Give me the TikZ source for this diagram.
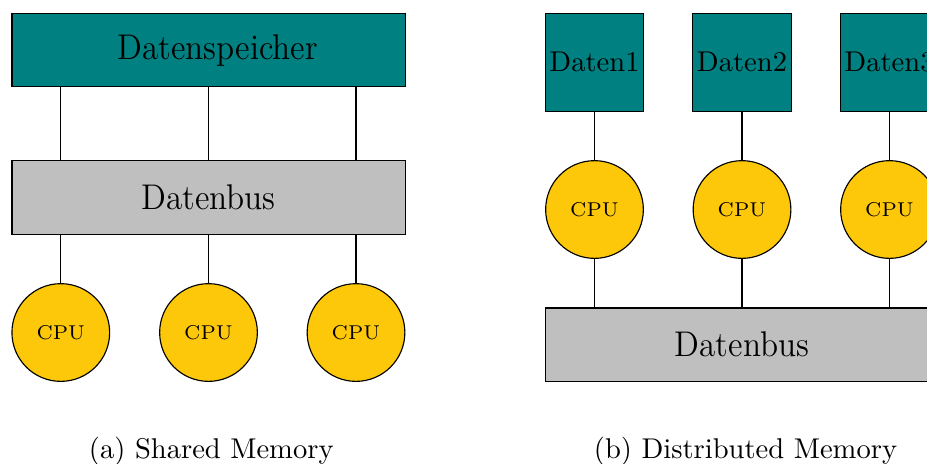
\documentclass[tikz,border=0pt]{standalone}
\usepackage{graphicx}
\usetikzlibrary{calc}
\definecolor{memteal}{RGB}{0,128,128}
\definecolor{busgray}{RGB}{191,191,191}
\definecolor{cpuyellow}{RGB}{254,200,10}
\newcommand{\bigtxt}[1]{\scalebox{0.93}[1]{#1}}
\tikzset{
  memblock/.style={draw=black, fill=memteal, rectangle, inner sep=0pt, font=\fontsize{12.5}{14}\selectfont},
  membig/.style={memblock, minimum width=137.6pt, minimum height=25.7pt},
  memsmall/.style={memblock, minimum width=34.4pt, minimum height=34.3pt, font=\fontsize{10}{12}\selectfont},
  busblock/.style={draw=black, fill=busgray, rectangle, inner sep=0pt, minimum width=137.6pt, minimum height=25.7pt, font=\fontsize{12.5}{14}\selectfont},
  cpunode/.style={draw=black, fill=cpuyellow, circle, inner sep=0pt, minimum size=34.2pt, font=\fontsize{7}{8}\selectfont},
  capt/.style={anchor=base, inner sep=0pt, font=\fontsize{10}{12}\selectfont},
  link/.style={draw=black, line width=0.4pt}
}
\begin{document}
\begin{tikzpicture}[x=0.35pt, y=-0.35pt, line width=0.4pt]
\clip (0,0) rectangle (927,463);
% (a) Shared Memory
\node[membig] (sp) at (208.5,50.2) {\hspace*{6.5pt}\bigtxt{Datenspeicher}};
\node[busblock] (busa) at (208.5,197.5) {\bigtxt{Datenbus}};
\node[cpunode] (ca1) at (60.8,332.5) {CPU};
\node[cpunode] (ca2) at (208.5,332.5) {CPU};
\node[cpunode] (ca3) at (356,332.5) {CPU};
\foreach \c in {ca1,ca2,ca3}{
  \draw[link] (sp.south -| \c) -- (busa.north -| \c);
  \draw[link] (busa.south -| \c) -- (\c.north);
}
\node[capt] (capa) at (211.3,458) {(a) Shared Memory};
% (b) Distributed Memory
\node[memsmall] (d1) at (594.5,62.3) {Daten1};
\node[memsmall] (d2) at (742,62.3) {Daten2};
\node[memsmall] (d3) at (889.5,62.3) {Daten3};
\node[cpunode] (cb1) at (594.5,209.5) {CPU};
\node[cpunode] (cb2) at (742,209.5) {CPU};
\node[cpunode] (cb3) at (889.5,209.5) {CPU};
\node[busblock] (busb) at (742,344.7) {\bigtxt{Datenbus}};
\foreach \i in {1,2,3}{
  \draw[link] (d\i.south) -- (cb\i.north);
  \draw[link] (cb\i.south) -- (busb.north -| cb\i);
}
\node[capt] (capb) at (745.5,458) {(b) Distributed Memory};
\end{tikzpicture}
\end{document}
